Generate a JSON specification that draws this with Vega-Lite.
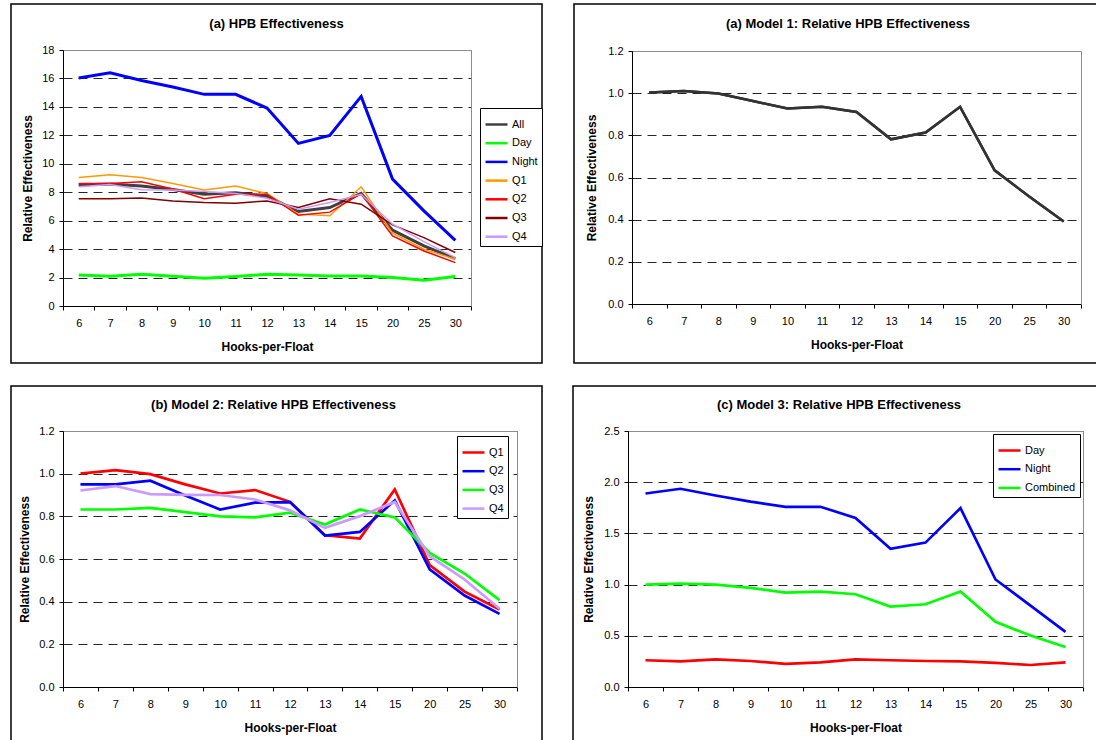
{
  "$schema": "https://vega.github.io/schema/vega-lite/v6.json",
  "padding": {"left": 10, "top": 3, "right": 0, "bottom": 0},
  "background": "white",
  "datasets": {
    "p1": [
      {"hpf":6,"series":"All","value":8.50},{"hpf":7,"series":"All","value":8.57},{"hpf":8,"series":"All","value":8.43},{"hpf":9,"series":"All","value":8.19},{"hpf":10,"series":"All","value":7.86},{"hpf":11,"series":"All","value":7.96},{"hpf":12,"series":"All","value":7.72},{"hpf":13,"series":"All","value":6.64},{"hpf":14,"series":"All","value":6.92},{"hpf":15,"series":"All","value":7.93},{"hpf":20,"series":"All","value":5.33},{"hpf":25,"series":"All","value":4.23},{"hpf":30,"series":"All","value":3.33},
      {"hpf":6,"series":"Day","value":2.18},{"hpf":7,"series":"Day","value":2.09},{"hpf":8,"series":"Day","value":2.23},{"hpf":9,"series":"Day","value":2.09},{"hpf":10,"series":"Day","value":1.95},{"hpf":11,"series":"Day","value":2.07},{"hpf":12,"series":"Day","value":2.23},{"hpf":13,"series":"Day","value":2.18},{"hpf":14,"series":"Day","value":2.11},{"hpf":15,"series":"Day","value":2.11},{"hpf":20,"series":"Day","value":2.00},{"hpf":25,"series":"Day","value":1.81},{"hpf":30,"series":"Day","value":2.07},
      {"hpf":6,"series":"Night","value":16.03},{"hpf":7,"series":"Night","value":16.40},{"hpf":8,"series":"Night","value":15.85},{"hpf":9,"series":"Night","value":15.40},{"hpf":10,"series":"Night","value":14.88},{"hpf":11,"series":"Night","value":14.88},{"hpf":12,"series":"Night","value":13.92},{"hpf":13,"series":"Night","value":11.43},{"hpf":14,"series":"Night","value":12.00},{"hpf":15,"series":"Night","value":14.74},{"hpf":20,"series":"Night","value":8.92},{"hpf":25,"series":"Night","value":6.69},{"hpf":30,"series":"Night","value":4.62},
      {"hpf":6,"series":"Q1","value":9.04},{"hpf":7,"series":"Q1","value":9.23},{"hpf":8,"series":"Q1","value":9.04},{"hpf":9,"series":"Q1","value":8.62},{"hpf":10,"series":"Q1","value":8.15},{"hpf":11,"series":"Q1","value":8.43},{"hpf":12,"series":"Q1","value":7.91},{"hpf":13,"series":"Q1","value":6.46},{"hpf":14,"series":"Q1","value":6.34},{"hpf":15,"series":"Q1","value":8.38},{"hpf":20,"series":"Q1","value":5.12},{"hpf":25,"series":"Q1","value":3.99},{"hpf":30,"series":"Q1","value":3.29},
      {"hpf":6,"series":"Q2","value":8.62},{"hpf":7,"series":"Q2","value":8.62},{"hpf":8,"series":"Q2","value":8.73},{"hpf":9,"series":"Q2","value":8.22},{"hpf":10,"series":"Q2","value":7.54},{"hpf":11,"series":"Q2","value":7.86},{"hpf":12,"series":"Q2","value":7.86},{"hpf":13,"series":"Q2","value":6.38},{"hpf":14,"series":"Q2","value":6.60},{"hpf":15,"series":"Q2","value":7.91},{"hpf":20,"series":"Q2","value":4.93},{"hpf":25,"series":"Q2","value":3.87},{"hpf":30,"series":"Q2","value":3.05},
      {"hpf":6,"series":"Q3","value":7.54},{"hpf":7,"series":"Q3","value":7.54},{"hpf":8,"series":"Q3","value":7.60},{"hpf":9,"series":"Q3","value":7.39},{"hpf":10,"series":"Q3","value":7.28},{"hpf":11,"series":"Q3","value":7.23},{"hpf":12,"series":"Q3","value":7.39},{"hpf":13,"series":"Q3","value":6.92},{"hpf":14,"series":"Q3","value":7.54},{"hpf":15,"series":"Q3","value":7.16},{"hpf":20,"series":"Q3","value":5.70},{"hpf":25,"series":"Q3","value":4.81},{"hpf":30,"series":"Q3","value":3.76},
      {"hpf":6,"series":"Q4","value":8.38},{"hpf":7,"series":"Q4","value":8.54},{"hpf":8,"series":"Q4","value":8.17},{"hpf":9,"series":"Q4","value":8.15},{"hpf":10,"series":"Q4","value":8.05},{"hpf":11,"series":"Q4","value":7.91},{"hpf":12,"series":"Q4","value":7.58},{"hpf":13,"series":"Q4","value":6.81},{"hpf":14,"series":"Q4","value":7.28},{"hpf":15,"series":"Q4","value":7.86},{"hpf":20,"series":"Q4","value":5.75},{"hpf":25,"series":"Q4","value":4.53},{"hpf":30,"series":"Q4","value":3.40}
    ],
    "p2": [
      {"hpf":6,"series":"Model 1","value":1.003},{"hpf":7,"series":"Model 1","value":1.010},{"hpf":8,"series":"Model 1","value":0.998},{"hpf":9,"series":"Model 1","value":0.963},{"hpf":10,"series":"Model 1","value":0.927},{"hpf":11,"series":"Model 1","value":0.935},{"hpf":12,"series":"Model 1","value":0.911},{"hpf":13,"series":"Model 1","value":0.781},{"hpf":14,"series":"Model 1","value":0.813},{"hpf":15,"series":"Model 1","value":0.935},{"hpf":20,"series":"Model 1","value":0.634},{"hpf":25,"series":"Model 1","value":0.510},{"hpf":30,"series":"Model 1","value":0.391}
    ],
    "p3": [
      {"hpf":6,"series":"Q1","value":1.000},{"hpf":7,"series":"Q1","value":1.017},{"hpf":8,"series":"Q1","value":0.998},{"hpf":9,"series":"Q1","value":0.950},{"hpf":10,"series":"Q1","value":0.907},{"hpf":11,"series":"Q1","value":0.923},{"hpf":12,"series":"Q1","value":0.868},{"hpf":13,"series":"Q1","value":0.712},{"hpf":14,"series":"Q1","value":0.696},{"hpf":15,"series":"Q1","value":0.926},{"hpf":20,"series":"Q1","value":0.571},{"hpf":25,"series":"Q1","value":0.447},{"hpf":30,"series":"Q1","value":0.363},
      {"hpf":6,"series":"Q2","value":0.950},{"hpf":7,"series":"Q2","value":0.950},{"hpf":8,"series":"Q2","value":0.967},{"hpf":9,"series":"Q2","value":0.898},{"hpf":10,"series":"Q2","value":0.832},{"hpf":11,"series":"Q2","value":0.864},{"hpf":12,"series":"Q2","value":0.867},{"hpf":13,"series":"Q2","value":0.710},{"hpf":14,"series":"Q2","value":0.727},{"hpf":15,"series":"Q2","value":0.875},{"hpf":20,"series":"Q2","value":0.551},{"hpf":25,"series":"Q2","value":0.429},{"hpf":30,"series":"Q2","value":0.343},
      {"hpf":6,"series":"Q3","value":0.832},{"hpf":7,"series":"Q3","value":0.832},{"hpf":8,"series":"Q3","value":0.840},{"hpf":9,"series":"Q3","value":0.820},{"hpf":10,"series":"Q3","value":0.800},{"hpf":11,"series":"Q3","value":0.795},{"hpf":12,"series":"Q3","value":0.817},{"hpf":13,"series":"Q3","value":0.762},{"hpf":14,"series":"Q3","value":0.832},{"hpf":15,"series":"Q3","value":0.795},{"hpf":20,"series":"Q3","value":0.629},{"hpf":25,"series":"Q3","value":0.532},{"hpf":30,"series":"Q3","value":0.407},
      {"hpf":6,"series":"Q4","value":0.921},{"hpf":7,"series":"Q4","value":0.942},{"hpf":8,"series":"Q4","value":0.904},{"hpf":9,"series":"Q4","value":0.901},{"hpf":10,"series":"Q4","value":0.900},{"hpf":11,"series":"Q4","value":0.879},{"hpf":12,"series":"Q4","value":0.828},{"hpf":13,"series":"Q4","value":0.746},{"hpf":14,"series":"Q4","value":0.801},{"hpf":15,"series":"Q4","value":0.867},{"hpf":20,"series":"Q4","value":0.613},{"hpf":25,"series":"Q4","value":0.504},{"hpf":30,"series":"Q4","value":0.367}
    ],
    "p4": [
      {"hpf":6,"series":"Day","value":0.261},{"hpf":7,"series":"Day","value":0.251},{"hpf":8,"series":"Day","value":0.270},{"hpf":9,"series":"Day","value":0.254},{"hpf":10,"series":"Day","value":0.225},{"hpf":11,"series":"Day","value":0.241},{"hpf":12,"series":"Day","value":0.270},{"hpf":13,"series":"Day","value":0.261},{"hpf":14,"series":"Day","value":0.254},{"hpf":15,"series":"Day","value":0.251},{"hpf":20,"series":"Day","value":0.235},{"hpf":25,"series":"Day","value":0.215},{"hpf":30,"series":"Day","value":0.241},
      {"hpf":6,"series":"Night","value":1.890},{"hpf":7,"series":"Night","value":1.936},{"hpf":8,"series":"Night","value":1.870},{"hpf":9,"series":"Night","value":1.810},{"hpf":10,"series":"Night","value":1.760},{"hpf":11,"series":"Night","value":1.760},{"hpf":12,"series":"Night","value":1.650},{"hpf":13,"series":"Night","value":1.350},{"hpf":14,"series":"Night","value":1.410},{"hpf":15,"series":"Night","value":1.747},{"hpf":20,"series":"Night","value":1.050},{"hpf":25,"series":"Night","value":0.795},{"hpf":30,"series":"Night","value":0.538},
      {"hpf":6,"series":"Combined","value":1.000},{"hpf":7,"series":"Combined","value":1.010},{"hpf":8,"series":"Combined","value":1.000},{"hpf":9,"series":"Combined","value":0.968},{"hpf":10,"series":"Combined","value":0.922},{"hpf":11,"series":"Combined","value":0.932},{"hpf":12,"series":"Combined","value":0.906},{"hpf":13,"series":"Combined","value":0.786},{"hpf":14,"series":"Combined","value":0.808},{"hpf":15,"series":"Combined","value":0.932},{"hpf":20,"series":"Combined","value":0.636},{"hpf":25,"series":"Combined","value":0.502},{"hpf":30,"series":"Combined","value":0.391}
    ]
  },
  "config": {
    "font": "Liberation Sans",
    "view": {"stroke": "#000000", "strokeWidth": 1.5},
    "axis": {
      "labelFont": "Liberation Sans", "labelFontSize": 11, "labelColor": "#000000",
      "titleFont": "Liberation Sans", "titleFontSize": 12, "titleFontWeight": "bold", "titleColor": "#000000",
      "domainColor": "#000000", "domainWidth": 1, "tickColor": "#000000", "tickSize": 4, "tickWidth": 1,
      "gridColor": "#000000", "gridDash": [9, 6], "gridWidth": 1, "gridOpacity": 0.85,
      "titleBaseline": "middle"
    },
    "axisX": {"labelPadding": 7, "labelAngle": 0},
    "axisY": {"labelPadding": 5},
    "title": {"font": "Liberation Sans", "fontSize": 13, "fontWeight": "bold", "color": "#000000", "frame": "group", "anchor": "middle", "baseline": "middle"},
    "legend": {
      "orient": "none", "title": null, "symbolType": "stroke", "symbolSize": 484, "symbolStrokeWidth": 2.5,
      "labelFont": "Liberation Sans", "labelFontSize": 11, "labelColor": "#000000", "labelOffset": 3,
      "strokeColor": "#000000", "fillColor": "#ffffff", "padding": 4, "rowPadding": 0.7, "labelLimit": 200
    }
  },
  "spacing": 21,
  "resolve": {"scale": {"color": "independent"}, "legend": {"color": "independent"}},
  "vconcat": [
    {
      "spacing": 29,
      "resolve": {"scale": {"color": "independent"}, "legend": {"color": "independent"}},
      "hconcat": [
        {
          "width": 531, "height": 359,
          "title": {"text": "(a) HPB Effectiveness", "offset": -27},
          "data": {"name": "p1"},
          "layer": [
            {
              "transform": [{"filter": {"field": "series", "oneOf": ["All", "Day", "Night"]}}],
              "mark": {"type": "line", "strokeWidth": 3},
              "encoding": {
                "x": {"field": "hpf", "type": "ordinal", "bandPosition": 0.5,
                  "scale": {"type": "band", "range": [52, 460], "paddingInner": 0, "paddingOuter": 0},
                  "axis": {"orient": "bottom", "offset": -57, "tickBand": "extent", "title": "Hooks-per-Float", "titleY": 40, "grid": false}},
                "y": {"field": "value", "type": "quantitative",
                  "scale": {"domain": [0, 18], "range": [302, 46], "nice": false},
                  "axis": {"orient": "left", "offset": -52, "values": [0,2,4,6,8,10,12,14,16,18], "format": "d", "title": "Relative Effectiveness", "titleX": -36, "grid": true}},
                "color": {"field": "series", "type": "nominal",
                  "scale": {"domain": ["All","Day","Night","Q1","Q2","Q3","Q4"], "range": ["#404040","#00ff00","#0000ff","#ff9900","#ff0000","#800000","#cc99ff"]},
                  "legend": {"legendX": 469, "legendY": 104}}
              }
            },
            {
              "transform": [{"filter": {"field": "series", "oneOf": ["Q1", "Q2", "Q3", "Q4"]}}],
              "mark": {"type": "line", "strokeWidth": 1.5},
              "encoding": {
                "x": {"field": "hpf", "type": "ordinal", "bandPosition": 0.5,
                  "scale": {"type": "band", "range": [52, 460], "paddingInner": 0, "paddingOuter": 0},
                  "axis": {"orient": "top", "offset": -46, "labels": false, "ticks": false, "title": null, "grid": false, "domainColor": "#8c8c8c"}},
                "y": {"field": "value", "type": "quantitative",
                  "scale": {"domain": [0, 18], "range": [302, 46], "nice": false},
                  "axis": {"orient": "right", "offset": -71, "labels": false, "ticks": false, "title": null, "grid": false, "domainColor": "#8c8c8c"}},
                "color": {"field": "series", "type": "nominal",
                  "scale": {"domain": ["All","Day","Night","Q1","Q2","Q3","Q4"], "range": ["#404040","#00ff00","#0000ff","#ff9900","#ff0000","#800000","#cc99ff"]},
                  "legend": {"legendX": 469, "legendY": 104}}
              }
            }
          ],
          "resolve": {"axis": {"x": "independent", "y": "independent"}}
        },
        {
          "width": 524, "height": 359,
          "title": {"text": "(a) Model 1: Relative HPB Effectiveness", "offset": -27, "dx": 12},
          "data": {"name": "p2"},
          "layer": [
            {
              "mark": {"type": "line", "strokeWidth": 2.5, "color": "#333333"},
              "encoding": {
                "x": {"field": "hpf", "type": "ordinal", "bandPosition": 0.5,
                  "scale": {"type": "band", "range": [58, 507], "paddingInner": 0, "paddingOuter": 0},
                  "axis": {"orient": "bottom", "offset": -59, "tickBand": "extent", "title": "Hooks-per-Float", "titleY": 40, "grid": false}},
                "y": {"field": "value", "type": "quantitative",
                  "scale": {"domain": [0, 1.2], "range": [300, 47], "nice": false},
                  "axis": {"orient": "left", "offset": -58, "values": [0,0.2,0.4,0.6,0.8,1.0,1.2], "format": ".1f", "title": "Relative Effectiveness", "titleX": -41, "grid": true}}
              }
            },
            {
              "mark": {"type": "line", "strokeWidth": 2.5, "color": "#333333"},
              "encoding": {
                "x": {"field": "hpf", "type": "ordinal", "bandPosition": 0.5,
                  "scale": {"type": "band", "range": [58, 507], "paddingInner": 0, "paddingOuter": 0},
                  "axis": {"orient": "top", "offset": -47, "labels": false, "ticks": false, "title": null, "grid": false, "domainColor": "#8c8c8c"}},
                "y": {"field": "value", "type": "quantitative",
                  "scale": {"domain": [0, 1.2], "range": [300, 47], "nice": false},
                  "axis": {"orient": "right", "offset": -17, "labels": false, "ticks": false, "title": null, "grid": false, "domainColor": "#8c8c8c"}}
              }
            }
          ],
          "resolve": {"axis": {"x": "independent", "y": "independent"}}
        }
      ]
    },
    {
      "spacing": 29,
      "resolve": {"scale": {"color": "independent"}, "legend": {"color": "independent"}},
      "hconcat": [
        {
          "width": 531, "height": 357,
          "title": {"text": "(b) Model 2: Relative HPB Effectiveness", "offset": -26, "dx": -3},
          "data": {"name": "p3"},
          "layer": [
            {
              "transform": [{"filter": {"field": "series", "oneOf": ["Q1", "Q2"]}}],
              "mark": {"type": "line", "strokeWidth": 2.7},
              "encoding": {
                "x": {"field": "hpf", "type": "ordinal", "bandPosition": 0.5,
                  "scale": {"type": "band", "range": [52, 506], "paddingInner": 0, "paddingOuter": 0},
                  "axis": {"orient": "bottom", "offset": -56, "tickBand": "extent", "title": "Hooks-per-Float", "titleY": 40, "grid": false}},
                "y": {"field": "value", "type": "quantitative",
                  "scale": {"domain": [0, 1.2], "range": [301, 45], "nice": false},
                  "axis": {"orient": "left", "offset": -52, "values": [0,0.2,0.4,0.6,0.8,1.0,1.2], "format": ".1f", "title": "Relative Effectiveness", "titleX": -39, "grid": true}},
                "color": {"field": "series", "type": "nominal",
                  "scale": {"domain": ["Q1","Q2","Q3","Q4"], "range": ["#ff0000","#0000ff","#00ff00","#cc99ff"]},
                  "legend": {"legendX": 446, "legendY": 50}}
              }
            },
            {
              "transform": [{"filter": {"field": "series", "oneOf": ["Q3", "Q4"]}}],
              "mark": {"type": "line", "strokeWidth": 2.7},
              "encoding": {
                "x": {"field": "hpf", "type": "ordinal", "bandPosition": 0.5,
                  "scale": {"type": "band", "range": [52, 506], "paddingInner": 0, "paddingOuter": 0},
                  "axis": {"orient": "top", "offset": -45, "labels": false, "ticks": false, "title": null, "grid": false, "domainColor": "#8c8c8c"}},
                "y": {"field": "value", "type": "quantitative",
                  "scale": {"domain": [0, 1.2], "range": [301, 45], "nice": false},
                  "axis": {"orient": "right", "offset": -25, "labels": false, "ticks": false, "title": null, "grid": false, "domainColor": "#8c8c8c"}},
                "color": {"field": "series", "type": "nominal",
                  "scale": {"domain": ["Q1","Q2","Q3","Q4"], "range": ["#ff0000","#0000ff","#00ff00","#cc99ff"]},
                  "legend": {"legendX": 446, "legendY": 50}}
              }
            }
          ],
          "resolve": {"axis": {"x": "independent", "y": "independent"}}
        },
        {
          "width": 524, "height": 357,
          "title": {"text": "(c) Model 3: Relative HPB Effectiveness", "offset": -26, "dx": 4},
          "data": {"name": "p4"},
          "layer": [
            {
              "transform": [{"filter": {"field": "series", "oneOf": ["Day", "Night"]}}],
              "mark": {"type": "line", "strokeWidth": 2.7},
              "encoding": {
                "x": {"field": "hpf", "type": "ordinal", "bandPosition": 0.5,
                  "scale": {"type": "band", "range": [55, 510], "paddingInner": 0, "paddingOuter": 0},
                  "axis": {"orient": "bottom", "offset": -56, "tickBand": "extent", "title": "Hooks-per-Float", "titleY": 40, "grid": false}},
                "y": {"field": "value", "type": "quantitative",
                  "scale": {"domain": [0, 2.5], "range": [301, 45], "nice": false},
                  "axis": {"orient": "left", "offset": -55, "values": [0,0.5,1.0,1.5,2.0,2.5], "format": ".1f", "title": "Relative Effectiveness", "titleX": -40, "grid": true}},
                "color": {"field": "series", "type": "nominal",
                  "scale": {"domain": ["Day","Night","Combined"], "range": ["#ff0000","#0000ff","#00ff00"]},
                  "legend": {"legendX": 420, "legendY": 48}}
              }
            },
            {
              "transform": [{"filter": {"field": "series", "oneOf": ["Combined"]}}],
              "mark": {"type": "line", "strokeWidth": 2.7},
              "encoding": {
                "x": {"field": "hpf", "type": "ordinal", "bandPosition": 0.5,
                  "scale": {"type": "band", "range": [55, 510], "paddingInner": 0, "paddingOuter": 0},
                  "axis": {"orient": "top", "offset": -45, "labels": false, "ticks": false, "title": null, "grid": false, "domainColor": "#8c8c8c"}},
                "y": {"field": "value", "type": "quantitative",
                  "scale": {"domain": [0, 2.5], "range": [301, 45], "nice": false},
                  "axis": {"orient": "right", "offset": -14, "labels": false, "ticks": false, "title": null, "grid": false, "domainColor": "#8c8c8c"}},
                "color": {"field": "series", "type": "nominal",
                  "scale": {"domain": ["Day","Night","Combined"], "range": ["#ff0000","#0000ff","#00ff00"]},
                  "legend": {"legendX": 420, "legendY": 48}}
              }
            }
          ],
          "resolve": {"axis": {"x": "independent", "y": "independent"}}
        }
      ]
    }
  ]
}
